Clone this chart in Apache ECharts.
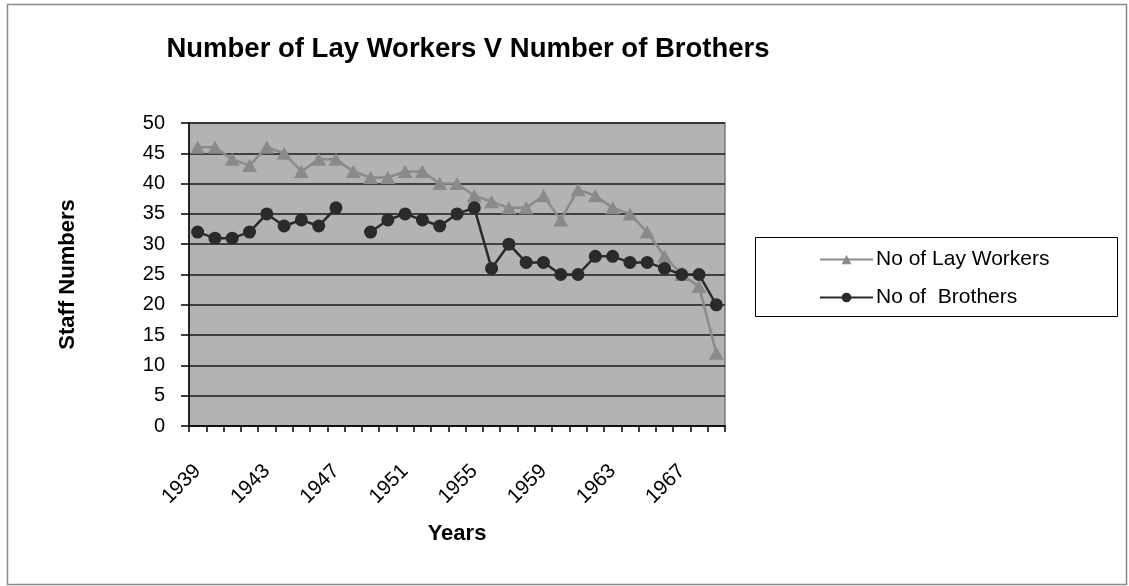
<!DOCTYPE html>
<html>
<head>
<meta charset="utf-8">
<script src="https://cdn.jsdelivr.net/npm/echarts@6/dist/echarts.min.js"></script>
<style>html,body{margin:0;padding:0;background:#fff;}#c{width:1129px;height:586px;}</style>
</head>
<body>
<div id="c"></div>
<script>
const years = ['1939','1940','1941','1942','1943','1944','1945','1946','1947','1948','1949','1950','1951','1952','1953','1954','1955','1956','1957','1958','1959','1960','1961','1962','1963','1964','1965','1966','1967','1968','1969'];
const layWorkers = [46,46,44,43,46,45,42,44,44,42,41,41,42,42,40,40,38,37,36,36,38,34,39,38,36,35,32,28,25,23,12];
const brothers = [32,31,31,32,35,33,34,33,36,null,32,34,35,34,33,35,36,26,30,27,27,25,25,28,28,27,27,26,25,25,20];
const yTicks = {min:0, max:50, interval:5};

const FONT = 'Liberation Sans, Arial, sans-serif';
const chart = echarts.init(document.getElementById('c'), null, {renderer:'canvas'});
chart.setOption({
  animation:false,
  backgroundColor:'#fff',
  title:{
    text:'Number of Lay Workers V Number of Brothers',
    left:463, top:30, textAlign:'center',
    textStyle:{fontFamily:FONT, fontSize:27.5, fontWeight:'bold', color:'#000'}
  },
  graphic:[
    {type:'rect', shape:{x:7.5,y:4.5,width:1119,height:580}, style:{fill:'none', stroke:'#8a8a8a', lineWidth:1.5}, z:-1},
    {type:'rect', shape:{x:755.5,y:237.5,width:362,height:79}, style:{fill:'#fff', stroke:'#000', lineWidth:1}, z:0}
  ],
  legend:{
    orient:'vertical', left:819, top:249, itemGap:17,
    itemWidth:53, itemHeight:12, padding:0, z:5,
    textStyle:{fontFamily:FONT, fontSize:21, color:'#000', padding:[0,0,0,-2]},
    data:['No of Lay Workers','No of  Brothers']
  },
  grid:{left:189, top:123, width:536, height:303, show:true, backgroundColor:'#b3b3b3', borderColor:'#7a7a7a', borderWidth:1.5, containLabel:false},
  xAxis:{
    type:'category', data:years, boundaryGap:true,
    name:'Years', nameLocation:'middle', nameGap:97,
    nameTextStyle:{fontFamily:FONT, fontSize:22, fontWeight:'bold', color:'#000'},
    axisLine:{lineStyle:{color:'#000', width:1.5}},
    axisTick:{show:true, interval:0, length:6, lineStyle:{color:'#000', width:1.5}},
    axisLabel:{interval:3, rotate:45, margin:42, fontFamily:FONT, fontSize:20.5, color:'#000'},
    splitLine:{show:false}
  },
  yAxis:{
    type:'value', min:yTicks.min, max:yTicks.max, interval:yTicks.interval,
    name:'Staff Numbers', nameLocation:'middle', nameGap:110, nameRotate:90,
    nameTextStyle:{fontFamily:FONT, fontSize:22, fontWeight:'bold', color:'#000'},
    axisLine:{show:true, lineStyle:{color:'#000', width:1.5}},
    axisTick:{show:true, inside:false, length:8, lineStyle:{color:'#000', width:1.5}},
    axisLabel:{margin:24, fontFamily:FONT, fontSize:20, color:'#000'},
    splitLine:{show:true, lineStyle:{color:'#1a1a1a', width:1.5}}
  },
  series:[
    {name:'No of Lay Workers', type:'line', data:layWorkers, symbol:'triangle', symbolSize:[15,13], showAllSymbol:true,
     lineStyle:{color:'#8a8a8a', width:2.5}, itemStyle:{color:'#8a8a8a'}, z:2},
    {name:'No of  Brothers', type:'line', data:brothers, symbol:'circle', symbolSize:13, showAllSymbol:true, connectNulls:false,
     lineStyle:{color:'#2a2a2a', width:2.5}, itemStyle:{color:'#2a2a2a'}, z:3}
  ]
});
</script>
</body>
</html>
